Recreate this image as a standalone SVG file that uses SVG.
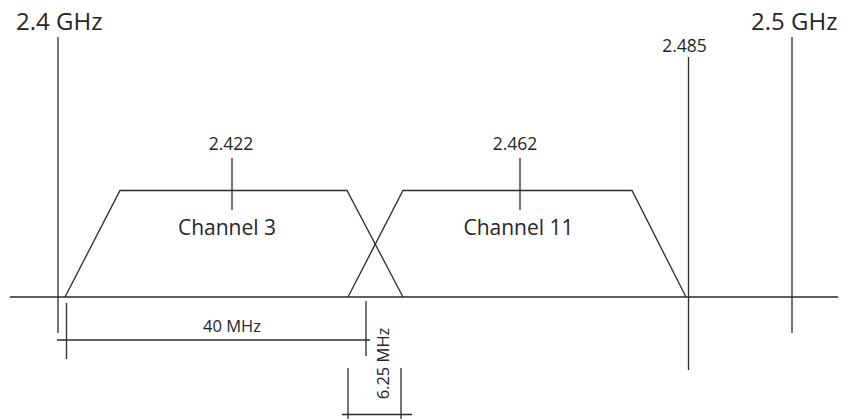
<svg xmlns="http://www.w3.org/2000/svg" width="843" height="419" viewBox="0 0 843 419">
<style>
.l{stroke:#2b2b2b;stroke-width:1.3;fill:none}
text{font-family:"Open Sans","Liberation Sans",sans-serif;fill:#262626}
.big{font-size:24px}
.mid{font-size:21px}
.sm{font-size:17.5px}
.xs{font-size:16.5px}
</style>
<rect width="843" height="419" fill="#fff"/>
<g id="axis">
<line class="l" x1="10" y1="297" x2="838" y2="297"/>
</g>
<g id="f24">
<text class="big" x="16" y="30">2.4 GHz</text>
<line class="l" x1="58" y1="37" x2="58" y2="333"/>
</g>
<g id="f25">
<text class="big" x="751" y="30">2.5 GHz</text>
<line class="l" x1="792" y1="37" x2="792" y2="333"/>
</g>
<g id="f2485">
<text class="sm" x="684.5" y="52" text-anchor="middle">2.485</text>
<line class="l" x1="688.5" y1="57" x2="688.5" y2="370"/>
</g>
<g id="ch3">
<polyline class="l" points="65,297 120,190.5 347,190.5 403,297"/>
<line class="l" x1="232" y1="158" x2="232" y2="210"/>
<text class="sm" x="231" y="150" text-anchor="middle">2.422</text>
<text class="mid" x="227" y="235" text-anchor="middle">Channel 3</text>
</g>
<g id="ch11">
<polyline class="l" points="348,297 403,190.5 632,190.5 686,297"/>
<line class="l" x1="520" y1="158" x2="520" y2="210"/>
<text class="sm" x="515" y="150" text-anchor="middle">2.462</text>
<text class="mid" x="518.5" y="235" text-anchor="middle">Channel 11</text>
</g>
<g id="connectors">
<line class="l" x1="57" y1="340" x2="370" y2="340"/>
<line class="l" x1="66.5" y1="303" x2="66.5" y2="359"/>
<line class="l" x1="366" y1="301" x2="366" y2="356"/>
<line class="l" x1="348" y1="368" x2="348" y2="419"/>
<line class="l" x1="401" y1="368" x2="401" y2="419"/>
<line class="l" x1="342" y1="414.5" x2="412" y2="414.5"/>
</g>
<g id="labels">
<text class="xs" x="232" y="332" text-anchor="middle">40 MHz</text>
<text class="xs" transform="translate(389,363.5) rotate(-90)" text-anchor="middle">6.25 MHz</text>
</g>
</svg>
